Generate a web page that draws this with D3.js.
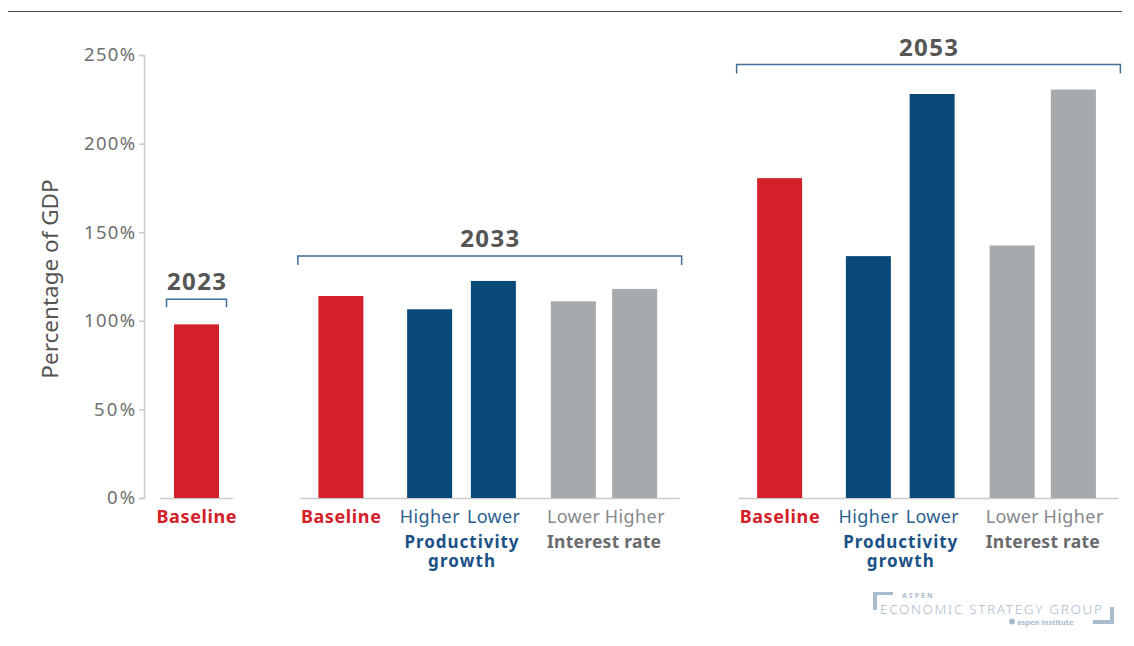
<!DOCTYPE html>
<html>
<head>
<meta charset="utf-8">
<script src="https://cdn.jsdelivr.net/npm/d3@7"></script>
<style>
  body { margin: 0; background: #fff; }
  svg text { font-family: "Noto Sans", "Lato", sans-serif; }
</style>
</head>
<body>
<div id="chart_container"></div>
<script>
const RED = "#d42029"
const BLUE = "#09497a"
const GRAY = "#a7aaad"
const BRACKET_COLOR = "#3f6f9a"

// data
const years = ["2023", "2033", "2053"];
const scenarios = ["Baseline", "Higher productivity", "Lower productivity", "Lower interest rate", "Higher interest rate"];
const debt2023 = [98];
const debt2033 = [114, 106.5, 122.5, 111, 118];
const debt2053 = [180.5, 136.5, 228, 142.5, 230.5];
const yTicks = [0, 50, 100, 150, 200, 250];

let width = 1134, height = 646;
let svg = d3.select("#chart_container").append("svg").attr("width", width).attr("height", height);

// top rule
svg.append("line").attr("x1", 8).attr("x2", 1122).attr("y1", 11.5).attr("y2", 11.5)
    .attr("stroke", "#4a4a4a").attr("stroke-width", 1.2);

let y = d3.scaleLinear().domain([0, 250]).range([498, 55]);
// x in slot units; one unit = one bar step
let x = d3.scaleLinear().domain([0, 1]).range([196.5, 259]);
const groupStart = { "2023": 0, "2033": 2.31, "2053": 9.33 };
const slot = [0, 1.42, 2.44, 3.72, 4.7];
const barW = x(0.72) - x(0);

let groups = [
    { year: "2023", values: debt2023 },
    { year: "2033", values: debt2033 },
    { year: "2053", values: debt2053 }
];
let colorOf = i => [RED, BLUE, BLUE, GRAY, GRAY][i];

// y axis
let yAxis = d3.axisLeft(y).tickValues(yTicks).tickFormat(d => d + "%").tickSize(5).tickPadding(4);
let ga = svg.append("g").attr("transform", "translate(144,0)").call(yAxis);
ga.selectAll("path, line").attr("stroke", "#c9cacc").attr("stroke-width", 1.5);
let tickW = { 1: 28, 2: 41, 3: 51 };
ga.selectAll("text").attr("fill", "#6f6f6f").attr("font-size", 18.5)
    .attr("textLength", d => tickW[String(d).length])
    .style("font-family", "Noto Sans");

svg.append("text").text("Percentage of GDP")
    .attr("transform", "translate(58,279) rotate(-90)")
    .attr("text-anchor", "middle").attr("fill", "#555").attr("font-size", 22.5);

groups.forEach(function (grp) {
    let s0 = groupStart[grp.year];
    let data = grp.values.map((v, i) => ({ v: v, i: i, cx: x(s0 + slot[i]) }));
    let g = svg.append("g");

    // baseline segment
    let x0 = grp.values.length == 1 ? data[0].cx - 36.5 : data[0].cx - 41;
    let x1 = grp.values.length == 1 ? data[0].cx + 36.5 : data[data.length - 1].cx + 45;
    g.append("line").attr("x1", x0).attr("x2", x1).attr("y1", y(0) + 0.5).attr("y2", y(0) + 0.5)
        .attr("stroke", "#c9cacc").attr("stroke-width", 1.5);

    g.selectAll("rect").data(data).join("rect")
        .attr("x", d => d.cx - barW / 2)
        .attr("width", barW)
        .attr("y", d => y(d.v))
        .attr("height", d => y(0) - y(d.v))
        .attr("fill", d => colorOf(d.i));

    // bracket + year label
    let by = y(d3.max(grp.values)) - 25;
    let bx0 = grp.values.length == 1 ? data[0].cx - 30 : x0 - 2;
    let bx1 = grp.values.length == 1 ? data[0].cx + 30 : x1 + 2;
    let tick = grp.values.length == 1 ? 8 : 9;
    g.append("path")
        .attr("d", `M${bx0},${by + tick}V${by}H${bx1}V${by + tick}`)
        .attr("fill", "none").attr("stroke", BRACKET_COLOR).attr("stroke-width", 1.5);
    g.append("text").text(grp.year)
        .attr("x", (bx0 + bx1) / 2).attr("y", by - 9)
        .attr("text-anchor", "middle").attr("font-size", 24).attr("font-weight", "bold").attr("fill", "#555")
        .attr("textLength", 59);

    // category labels
    let ly = 523;
    g.append("text").text("Baseline").attr("x", data[0].cx).attr("y", ly)
        .attr("text-anchor", "middle").attr("font-size", 18).attr("font-weight", "bold").attr("fill", RED)
        .attr("textLength", 80);
    if (grp.values.length > 1) {
        let sub = [null, "Higher", "Lower", "Lower", "Higher"];
        for (let i = 1; i < 5; i++) {
            g.append("text").text(sub[i]).attr("x", data[i].cx).attr("y", ly)
                .attr("text-anchor", "middle").attr("font-size", 18)
                .attr("textLength", sub[i] == "Higher" ? 60 : 53)
                .attr("fill", i < 3 ? "#2b5f91" : "#85888b");
        }
        let pc = (data[1].cx + data[2].cx) / 2;
        g.append("text").text("Productivity").attr("x", pc).attr("y", 548).attr("text-anchor", "middle")
            .attr("font-size", 17).attr("font-weight", "bold").attr("fill", "#1a5186").attr("textLength", 114);
        g.append("text").text("growth").attr("x", pc).attr("y", 567).attr("text-anchor", "middle")
            .attr("font-size", 17).attr("font-weight", "bold").attr("fill", "#1a5186").attr("textLength", 67);
        let ic = (data[3].cx + data[4].cx) / 2;
        g.append("text").text("Interest rate").attr("x", ic).attr("y", 548)
            .attr("text-anchor", "middle").attr("font-size", 17.5).attr("font-weight", "bold").attr("fill", "#6a6b6d")
            .attr("textLength", 114);
    }
});

// logo
let logo = svg.append("g").attr("fill", "#a9bccd");
logo.append("path").attr("d", "M873,592H893V595H877V610H873Z");
logo.append("path").attr("d", "M1114,607V624H1093V620H1110V607Z");
logo.append("text").text("ASPEN").attr("x", 902).attr("y", 598)
    .attr("font-size", 7).attr("font-weight", "bold").attr("letter-spacing", 2);
logo.append("text").text("ECONOMIC STRATEGY GROUP").attr("x", 880).attr("y", 614)
    .attr("font-size", 13.5).attr("textLength", 222).attr("font-weight", 300);
logo.append("circle").attr("cx", 1012).attr("cy", 621.5).attr("r", 3);
logo.append("text").text("aspen institute").attr("x", 1017).attr("y", 624.5)
    .attr("font-size", 7.5).attr("font-weight", "bold");
</script>
</body>
</html>
